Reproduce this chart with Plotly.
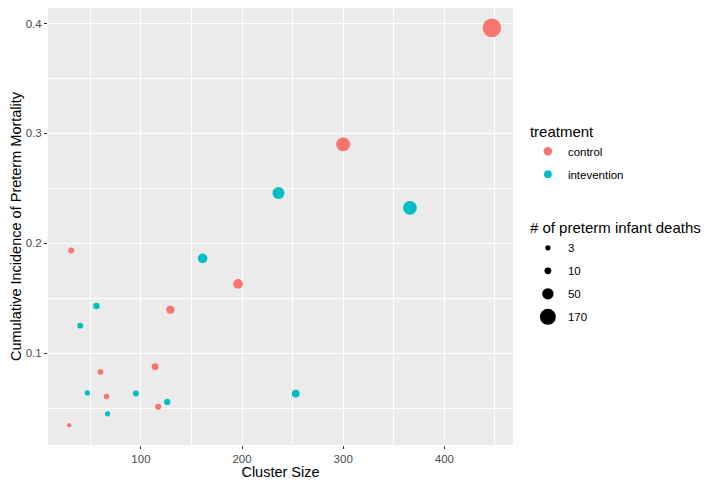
import numpy as np
import plotly.graph_objects as go

# ── data ──────────────────────────────────────────────────────────────────────
CTRL_SIZE   = [447, 300, 196, 129, 31, 60, 114, 66, 117, 29]
CTRL_DEATHS = [177, 87, 32, 18, 6, 5, 10, 4, 6, 1]
CTRL_INC    = [0.396, 0.290, 0.163, 0.1395, 0.1935, 0.083, 0.0877, 0.0606, 0.0513, 0.0345]

INT_SIZE    = [236, 366, 161, 253, 56, 40, 47, 95, 126, 67]
INT_DEATHS  = [58, 85, 30, 16, 8, 5, 3, 6, 7, 3]
INT_INC     = [0.2458, 0.2322, 0.1863, 0.0632, 0.1429, 0.125, 0.0638, 0.0632, 0.0556, 0.0448]

SIZE_BREAKS = [3, 10, 50, 170]

RED  = "#F8766D"
TEAL = "#00BFC4"
FONT = "Liberation Sans, Arial, sans-serif"


def px_size(deaths):
    # rough stand-in for ggplot's size scale
    return 3.2 + 1.15 * np.sqrt(np.asarray(deaths, dtype=float))


fig = go.Figure()

for name, xs, ys, ds, col in [
    ("control", CTRL_SIZE, CTRL_INC, CTRL_DEATHS, RED),
    ("intevention", INT_SIZE, INT_INC, INT_DEATHS, TEAL),
]:
    fig.add_trace(go.Scatter(
        x=xs, y=ys, mode="markers", name=name,
        marker=dict(color=col, size=px_size(ds), opacity=1, line=dict(width=0)),
        legend="legend", legendgroup=name,
        hovertemplate="Cluster size: %{x}<br>Incidence: %{y:.3f}<extra></extra>",
    ))

# size legend: dummy traces (own group each so tracegroupgap spaces them out)
for b in SIZE_BREAKS:
    fig.add_trace(go.Scatter(
        x=[None], y=[None], mode="markers", name=str(b),
        marker=dict(color="black", size=float(px_size([b])[0]), opacity=1, line=dict(width=0)),
        legend="legend2", legendgroup=f"size{b}",
    ))

all_x = np.array(CTRL_SIZE + INT_SIZE, dtype=float)
all_y = np.array(CTRL_INC + INT_INC, dtype=float)
xpad = 0.05 * (all_x.max() - all_x.min())
ypad = 0.05 * (all_y.max() - all_y.min())

axis_common = dict(
    showgrid=True, gridcolor="white", gridwidth=1.1,
    zeroline=False, showline=False,
    ticks="outside", ticklen=3, tickwidth=1, tickcolor="#333333",
    tickfont=dict(family=FONT, size=11.5, color="#4D4D4D"),
)

fig.update_xaxes(
    range=[all_x.min() - xpad, all_x.max() + xpad],
    tickvals=[100, 200, 300, 400],
    minor=dict(dtick=50, tick0=0, showgrid=True, gridcolor="white", gridwidth=0.5, ticks=""),
    title=dict(text="Cluster Size", font=dict(family=FONT, size=14.5, color="black"), standoff=4),
    **axis_common,
)
fig.update_yaxes(
    range=[all_y.min() - ypad, all_y.max() + ypad],
    tickvals=[0.1, 0.2, 0.3, 0.4],
    minor=dict(dtick=0.05, tick0=0, showgrid=True, gridcolor="white", gridwidth=0.5, ticks=""),
    title=dict(text="Cumulative Incidence of Preterm Mortality",
               font=dict(family=FONT, size=14.5, color="black"), standoff=4),
    **axis_common,
)

legend_common = dict(
    xanchor="left", yanchor="top", x=1.032,
    bgcolor="rgba(0,0,0,0)",
    font=dict(family=FONT, size=11.5, color="black"),
    itemsizing="trace", tracegroupgap=4, traceorder="grouped",
    itemwidth=30,
)

# page has an 8px body margin, so the figure is a bit smaller than the window
fig.update_layout(
    width=701, height=472,
    margin=dict(l=40, r=196, t=0, b=35),
    paper_bgcolor="white",
    plot_bgcolor="#EBEBEB",
    font=dict(family=FONT),
    showlegend=True,
    legend=dict(y=0.75, title=dict(text="treatment", font=dict(family=FONT, size=15)),
                **legend_common),
    legend2=dict(y=0.529, title=dict(text="# of preterm infant deaths", font=dict(family=FONT, size=15)),
                 **legend_common),
)

fig.write_html("out.html")
